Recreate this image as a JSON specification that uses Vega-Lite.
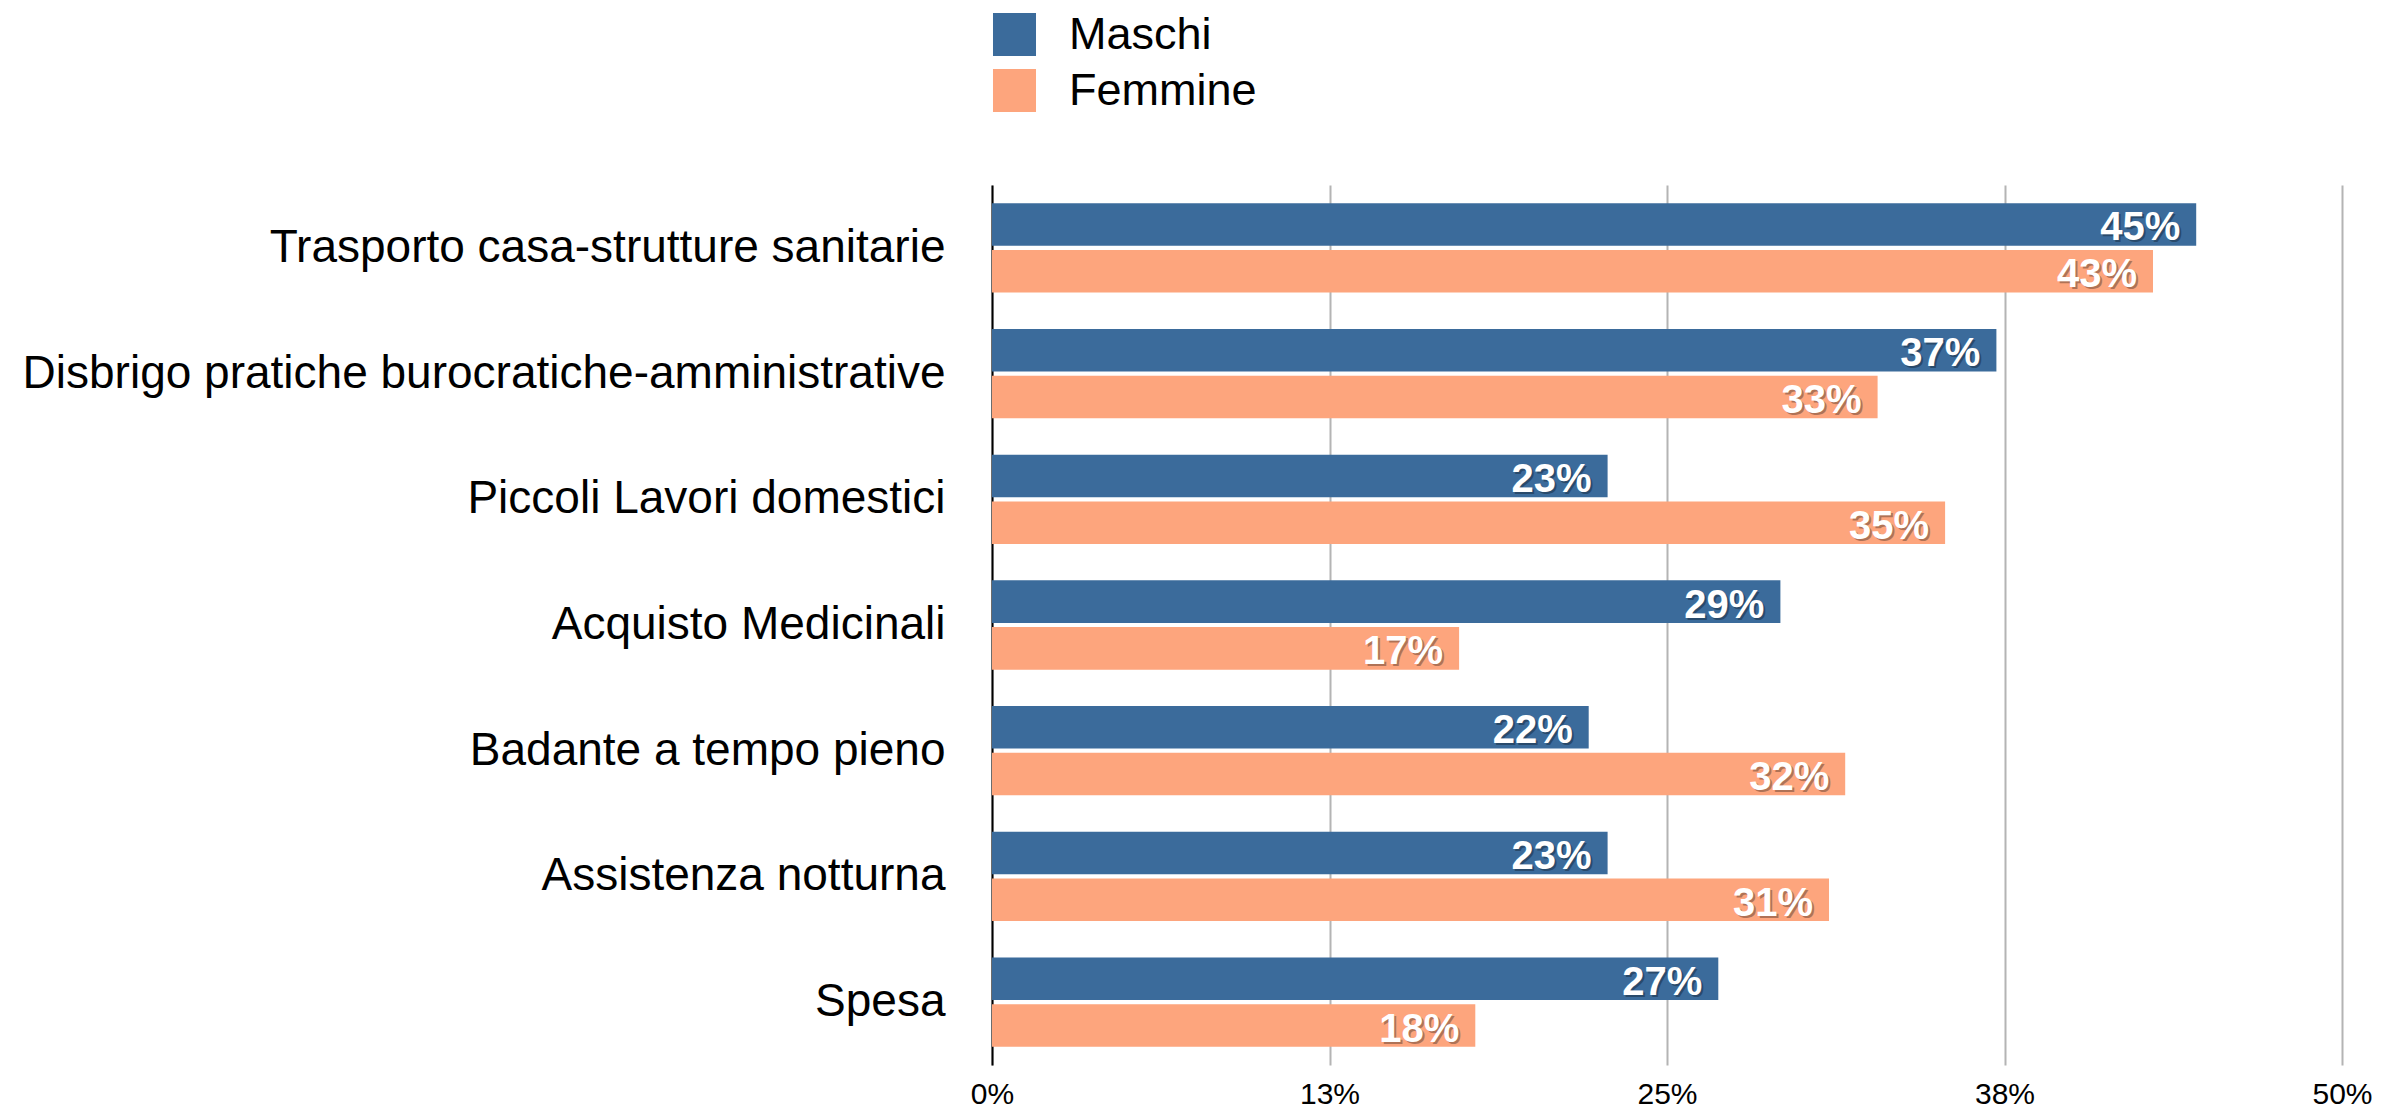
{
  "$schema": "https://vega.github.io/schema/vega-lite/v6.json",
  "autosize": {"type": "none"},
  "padding": {"left": 992, "top": 185, "right": 50, "bottom": 43},
  "width": 1350,
  "height": 880,
  "background": "white",
  "config": {"font": "Liberation Sans", "view": {"stroke": null}},
  "data": {"values": [
    {"task": "Trasporto casa-strutture sanitarie", "sex": "Maschi", "value": 0.446},
    {"task": "Trasporto casa-strutture sanitarie", "sex": "Femmine", "value": 0.430},
    {"task": "Disbrigo pratiche burocratiche-amministrative", "sex": "Maschi", "value": 0.372},
    {"task": "Disbrigo pratiche burocratiche-amministrative", "sex": "Femmine", "value": 0.328},
    {"task": "Piccoli Lavori domestici", "sex": "Maschi", "value": 0.228},
    {"task": "Piccoli Lavori domestici", "sex": "Femmine", "value": 0.353},
    {"task": "Acquisto Medicinali", "sex": "Maschi", "value": 0.292},
    {"task": "Acquisto Medicinali", "sex": "Femmine", "value": 0.173},
    {"task": "Badante a tempo pieno", "sex": "Maschi", "value": 0.221},
    {"task": "Badante a tempo pieno", "sex": "Femmine", "value": 0.316},
    {"task": "Assistenza notturna", "sex": "Maschi", "value": 0.228},
    {"task": "Assistenza notturna", "sex": "Femmine", "value": 0.310},
    {"task": "Spesa", "sex": "Maschi", "value": 0.269},
    {"task": "Spesa", "sex": "Femmine", "value": 0.179}
  ]},
  "encoding": {
    "y": {
      "field": "task", "type": "nominal", "sort": null,
      "scale": {"paddingInner": 0.29, "paddingOuter": 0.145},
      "axis": {"title": null, "ticks": false, "labelPadding": 47, "labelFontSize": 46, "labelColor": "black", "labelLimit": 1200, "domain": true, "domainColor": "black", "domainWidth": 2, "grid": false}
    },
    "yOffset": {"field": "sex", "type": "nominal", "sort": ["Maschi", "Femmine"], "scale": {"paddingInner": 0.09}},
    "x": {
      "field": "value", "type": "quantitative",
      "scale": {"domain": [0, 0.5], "nice": false},
      "axis": {"title": null, "values": [0, 0.125, 0.25, 0.375, 0.5], "format": ".0%", "ticks": false, "domain": false, "grid": true, "gridColor": "#b4b4b4", "gridWidth": 2, "labelFontSize": 30, "labelColor": "black", "labelPadding": 14, "labelFlush": false}
    }
  },
  "layer": [
    {
      "mark": {"type": "bar"},
      "encoding": {
        "color": {
          "field": "sex", "type": "nominal",
          "scale": {"domain": ["Maschi", "Femmine"], "range": ["#3b6b9b", "#fda57d"]},
          "legend": {"title": null, "orient": "none", "legendX": 0, "legendY": -173, "symbolType": "square", "symbolSize": 1850, "symbolStrokeWidth": 0, "symbolOpacity": 1, "labelFontSize": 45, "labelColor": "black", "labelOffset": 32, "labelLimit": 600, "rowPadding": 10, "padding": 0}
        }
      }
    },
    {
      "mark": {"type": "text", "align": "right", "baseline": "middle", "dx": -14, "dy": 6, "fontSize": 40, "fontWeight": "bold", "fill": "black", "opacity": 0.3},
      "encoding": {"text": {"field": "value", "type": "quantitative", "format": ".0%"}}
    },
    {
      "mark": {"type": "text", "align": "right", "baseline": "middle", "dx": -16, "dy": 4, "fontSize": 40, "fontWeight": "bold", "fill": "white"},
      "encoding": {"text": {"field": "value", "type": "quantitative", "format": ".0%"}}
    }
  ]
}
